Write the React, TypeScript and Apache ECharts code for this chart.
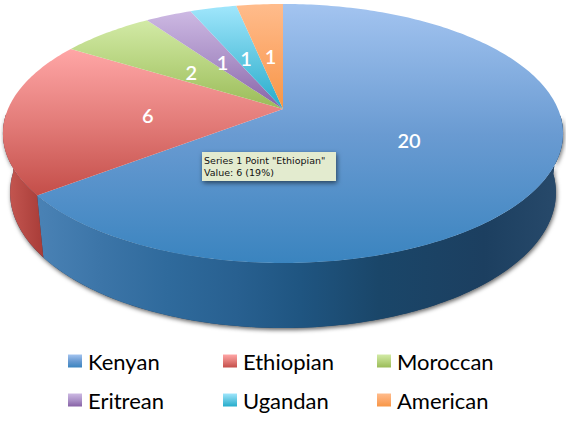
import React, { useEffect, useRef } from "react";
import * as echarts from "echarts";

const categories = ["Kenyan", "Ethiopian", "Moroccan", "Eritrean", "Ugandan", "American"];
const values = [20, 6, 2, 1, 1, 1];
const topStops = [
  ["#A3C4F0", "#6A9BD2", "#3A84BF"],
  ["#FFA6A6", "#E37C79", "#C44E49"],
  ["#D2EAA6", "#B7D47F", "#9ABB58"],
  ["#CDB9E3", "#AC92C8", "#8762A6"],
  ["#A0E6FC", "#63C8E2", "#25ACCB"],
  ["#FFBC8C", "#FCA86A", "#F79646"],
];
const sideStops = [
  [
    [0, "#4A82B5"],
    [0.12, "#3C75A8"],
    [0.25, "#2F6A9C"],
    [0.38, "#286090"],
    [0.5, "#1F5581"],
    [0.65, "#1A4669"],
    [0.85, "#1C3F60"],
    [1, "#284A6B"],
  ],
  [
    [0, "#C85A54"],
    [1, "#A83C38"],
  ],
];
const legendColumns = [
  ["Kenyan", "Eritrean"],
  ["Ethiopian", "Ugandan"],
  ["Moroccan", "American"],
];
const tooltipName = "Ethiopian";
const fontLabel = "Lato, 'Open Sans', sans-serif";

// Projection of the tilted disc: perspective from the flat pie to the picture
const CX = 283;
const PERSP = -0.189;
const topFace = { y0: 109, sx: 275, ky: 124.9 };
const baseFace = { y0: 167, sx: 268, ky: 130.6 };

type Face = { y0: number; sx: number; ky: number };
const project = (deg: number, r: number, f: Face): [number, number] => {
  const a = (deg * Math.PI) / 180;
  const u = Math.sin(a) * r;
  const v = -Math.cos(a) * r;
  const w = 1 + PERSP * v;
  return [CX + (f.sx * u) / w, f.y0 + (f.ky * v) / w];
};
const arc = (a0: number, a1: number, f: Face): [number, number][] => {
  const n = Math.max(2, Math.ceil(Math.abs(a1 - a0)));
  const pts: [number, number][] = [];
  for (let i = 0; i <= n; i++) pts.push(project(a0 + ((a1 - a0) * i) / n, 1, f));
  return pts;
};

const total = values.reduce((s, v) => s + v, 0);
const FRONT_START = 93;
const FRONT_END = 268;

const vGrad = (stops: string[]) => ({
  type: "linear",
  x: 0,
  y: 0,
  x2: 0,
  y2: 1,
  colorStops: stops.map((c, i) => ({ offset: i / (stops.length - 1), color: c })),
});
const hGrad = (stops: (number | string)[][]) => ({
  type: "linear",
  x: 0,
  y: 0,
  x2: 1,
  y2: 0,
  colorStops: stops.map((s) => ({ offset: s[0] as number, color: s[1] as string })),
});

function buildSeries() {
  const list: any[] = [];
  // soft shadow under the rim, drawn first
  list.push({
    type: "custom",
    name: "rim",
    coordinateSystem: "none",
    silent: true,
    data: [[FRONT_START, FRONT_END]],
    renderItem: (_p: any, api: any) => {
      const a0 = api.value(0);
      const a1 = api.value(1);
      return {
        type: "polygon",
        shape: { points: [...arc(a0, a1, topFace), ...arc(a1, a0, baseFace)] },
        style: {
          fill: "#2a3f55",
          shadowBlur: 4,
          shadowColor: "rgba(0,0,0,0.6)",
          shadowOffsetX: 1,
          shadowOffsetY: 2,
        },
      };
    },
  });
  let acc = 0;
  categories.forEach((name, i) => {
    const start = (acc / total) * 360;
    acc += values[i];
    const end = (acc / total) * 360;
    list.push({
      type: "custom",
      name,
      coordinateSystem: "none",
      silent: true,
      itemStyle: { color: vGrad(topStops[i]) },
      data: [[start, end, values[i]]],
      renderItem: (_p: any, api: any) => {
        const a0 = api.value(0);
        const a1 = api.value(1);
        const children: any[] = [];
        const s0 = Math.max(a0, FRONT_START);
        const s1 = Math.min(a1, FRONT_END);
        if (s1 > s0 && sideStops[i]) {
          children.push({
            type: "polygon",
            shape: { points: [...arc(s0, s1, topFace), ...arc(s1, s0, baseFace)] },
            style: { fill: hGrad(sideStops[i]) },
          });
        }
        children.push({
          type: "polygon",
          shape: { points: [[CX, topFace.y0], ...arc(a0, a1, topFace)] },
          style: { fill: vGrad(topStops[i]) },
        });
        const [lx, ly] = project((a0 + a1) / 2, 0.49, topFace);
        children.push({
          type: "text",
          z2: 10,
          style: {
            text: String(api.value(2)),
            x: lx,
            y: ly + 3,
            fill: "#ffffff",
            font: `600 20px ${fontLabel}`,
            align: "center",
            verticalAlign: "middle",
          },
        });
        return { type: "group", children };
      },
    });
  });
  return list;
}

export default function App() {
  const ref = useRef<HTMLDivElement>(null);
  useEffect(() => {
    if (!ref.current) return;
    const chart = echarts.init(ref.current, undefined, { renderer: "svg" });
    const idx = categories.indexOf(tooltipName);
    const pct = Math.round((values[idx] / total) * 100);
    chart.setOption({
      animation: false,
      backgroundColor: "#ffffff",
      legend: legendColumns.map((col, i) => ({
        orient: "vertical",
        left: [68, 223, 377][i],
        top: 350,
        padding: 0,
        itemGap: 17,
        itemWidth: 14,
        itemHeight: 13,
        selectedMode: false,
        icon: "rect",
        data: col,
        textStyle: { fontFamily: "Lato, 'Open Sans', sans-serif", fontSize: 22, color: "#000000", padding: [0, 0, 0, 1] },
      })),
      series: buildSeries(),
      graphic: [
        {
          type: "rect",
          z: 100,
          shape: { x: 202, y: 152, width: 134, height: 29 },
          style: {
            fill: "#E3EBCF",
            shadowBlur: 5,
            shadowColor: "rgba(0,0,0,0.55)",
            shadowOffsetX: 1,
            shadowOffsetY: 2,
          },
        },
        {
          type: "text",
          z: 101,
          x: 204,
          y: 155,
          style: {
            text: `Series 1 Point "${tooltipName}"`,
            font: "9.5px 'DejaVu Sans', sans-serif",
            fill: "#111111",
          },
        },
        {
          type: "text",
          z: 101,
          x: 204,
          y: 167,
          style: {
            text: `Value: ${values[idx]} (${pct}%)`,
            font: "9.5px 'DejaVu Sans', sans-serif",
            fill: "#111111",
          },
        },
      ],
    });
    return () => chart.dispose();
  }, []);
  return <div ref={ref} style={{ position: "absolute", left: 0, top: 0, width: 566, height: 422 }} />;
}
